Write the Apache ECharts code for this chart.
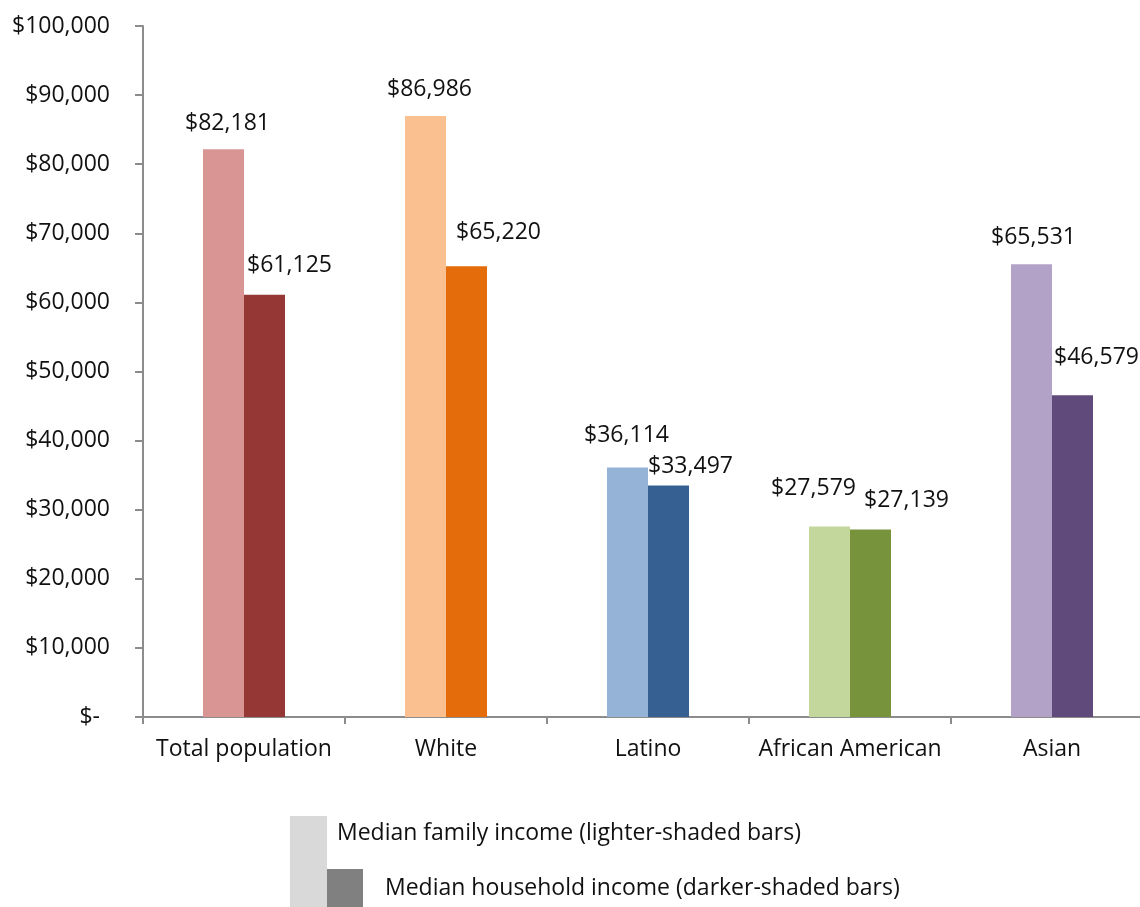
<!DOCTYPE html>
<html><head><meta charset="utf-8">
<script src="https://cdn.jsdelivr.net/npm/echarts@6/dist/echarts.min.js"></script>
<style>html,body{margin:0;padding:0;background:#fff}#c{width:1140px;height:907px}</style>
</head><body><div id="c"></div>
<script>
const categories = ['Total population', 'White', 'Latino', 'African American', 'Asian'];
const familyIncome = [82181, 86986, 36114, 27579, 65531];
const householdIncome = [61125, 65220, 33497, 27139, 46579];
const yTicks = [0, 10000, 20000, 30000, 40000, 50000, 60000, 70000, 80000, 90000, 100000];
const legendLabels = ['Median family income (lighter-shaded bars)', 'Median household income (darker-shaded bars)'];

const lightColors = ['#D99594', '#FAC090', '#95B3D7', '#C3D69B', '#B2A2C7'];
const darkColors = ['#953735', '#E46C0A', '#376092', '#77933C', '#604A7B'];
const lightLabelOffset = [[4, -9], [4, -10], [-1, -15], [-16, -21], [2, -10]];
const darkLabelOffset = [[25, -13], [32, -17], [22, -3], [36, -13], [24, -21]];

const FONT = 'Open Sans';
const FS = 23;
const chart = echarts.init(document.getElementById('c'), null, {renderer: 'canvas'});

function mk(vals, colors, offs) {
  return vals.map((v, i) => ({
    value: v,
    itemStyle: {color: colors[i]},
    label: {offset: offs[i]}
  }));
}

const labelStyle = {
  show: true, position: 'top', distance: 5,
  fontFamily: FONT, fontSize: FS, color: '#111',
  formatter: p => '$' + p.value.toLocaleString('en-US')
};

chart.setOption({
  animation: false,
  backgroundColor: '#fff',
  grid: {left: 143, top: 26, width: 1010, height: 691, containLabel: false, outerBoundsMode: 'none'},
  xAxis: {
    type: 'category', data: categories,
    axisLine: {lineStyle: {color: '#8c8c8c', width: 2}},
    axisTick: {show: true, length: 7, lineStyle: {color: '#8c8c8c', width: 2}},
    axisLabel: {fontFamily: FONT, fontSize: FS, color: '#111', margin: 21, interval: 0}
  },
  yAxis: {
    type: 'value', min: yTicks[0], max: yTicks[yTicks.length - 1], interval: yTicks[1] - yTicks[0],
    splitLine: {show: false},
    axisLine: {show: true, lineStyle: {color: '#8c8c8c', width: 2}},
    axisTick: {show: true, length: 8, lineStyle: {color: '#8c8c8c', width: 2}},
    axisLabel: {
      fontFamily: FONT, fontSize: FS, color: '#111', margin: 33,
      formatter: v => v === 0 ? '{z|$-}' : '$' + v.toLocaleString('en-US'),
      rich: {z: {fontFamily: FONT, fontSize: FS, color: '#111', padding: [0, 10, 0, 0]}}
    }
  },
  series: [
    {type: 'bar', name: legendLabels[0], data: mk(familyIncome, lightColors, lightLabelOffset),
     barWidth: 41, barGap: '0%', label: labelStyle},
    {type: 'bar', name: legendLabels[1], data: mk(householdIncome, darkColors, darkLabelOffset),
     barWidth: 41, barGap: '0%', label: labelStyle}
  ],
  graphic: [
    {type: 'rect', left: 290, top: 816, shape: {width: 37, height: 91}, style: {fill: '#D9D9D9'}},
    {type: 'rect', left: 327, top: 869, shape: {width: 36, height: 38}, style: {fill: '#808080'}},
    {type: 'text', left: 337, top: 822, style: {text: legendLabels[0], fontFamily: FONT, fontSize: FS, fill: '#111'}},
    {type: 'text', left: 385, top: 877, style: {text: legendLabels[1], fontFamily: FONT, fontSize: FS, fill: '#111'}}
  ]
});
</script></body></html>
